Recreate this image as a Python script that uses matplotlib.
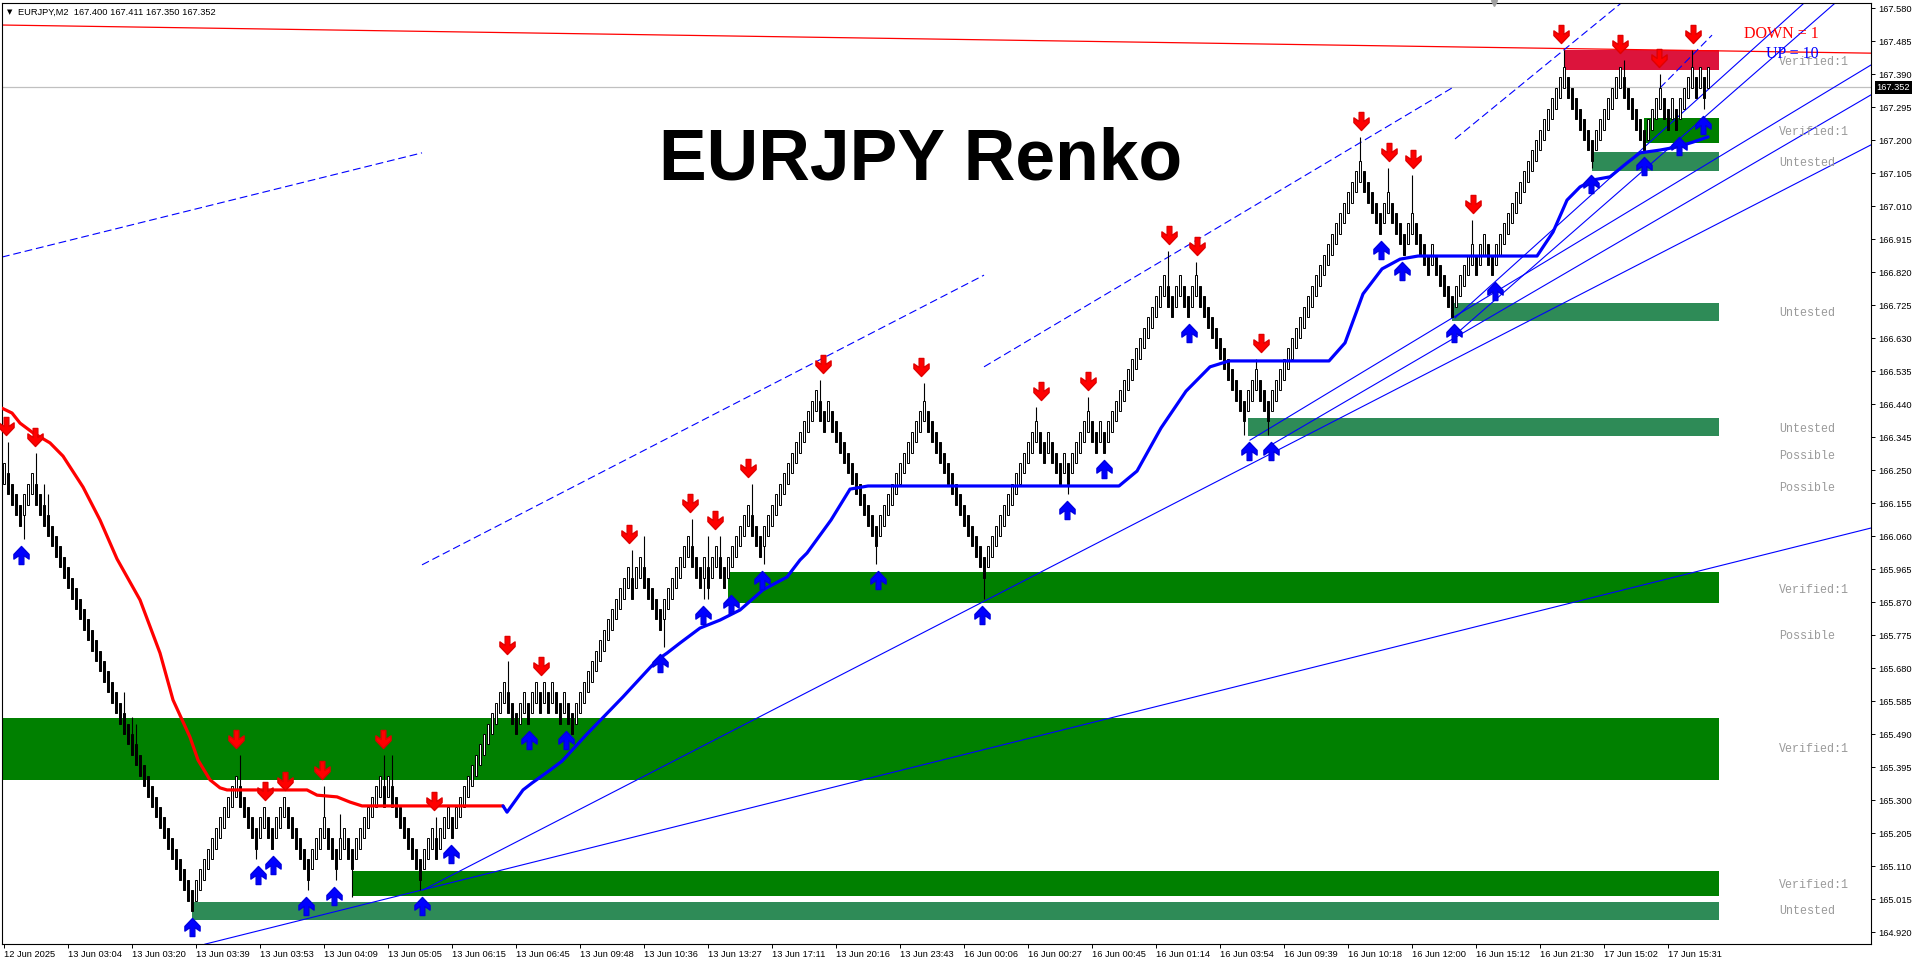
import matplotlib
matplotlib.use("Agg")
import matplotlib.pyplot as plt
from matplotlib.path import Path
from matplotlib.patches import Rectangle
from matplotlib.transforms import offset_copy, blended_transform_factory

# ---------------- Daten ----------------
BRICK = 0.03
start_close = 166.27

# Laenge jeder Renko-Bewegung in Bars (+ auf, - ab), erster Bar ist weiss
runs = [-4, 3, -40, 11, -5, 2, -2, 3, -6, 4, -3, 2, -2, 7, -1, 1, -8, 3, -1, 3, -1, 13,
        -3, 2, -1, 2, -1, 1, -1, 1, -2, 1, -2, 14,
        -1, 2, -5, 7, -3, 1, -1, 2, -2, 6, -3, 14, -2, 1, -12, 12, -15, 13,
        -2, 1, -3, 1, -1, 5, -2, 1, -1, 15, -2, 2, -2, 2, -12, 3, -3, 23,
        -5, 2, -4, 2, -4, 1, -5, 5, -1, 2, -2, 18,
        -7, 7, -6, 4, -2, 1, -1, 4, -1, 1, -1, 1]

# Dochte (Bar-Index: Preis)
wick_hi = {1: 166.33, 8: 166.30, 10: 166.21, 11: 166.18, 30: 165.61, 32: 165.54, 33: 165.52,
           59: 165.43, 80: 165.34, 84: 165.26, 95: 165.43, 97: 165.43, 108: 165.25,
           126: 165.70, 157: 166.02, 160: 166.06, 172: 166.11, 176: 166.06, 179: 166.06,
           187: 166.21, 204: 166.51, 230: 166.50, 258: 166.43, 271: 166.46, 291: 166.88,
           298: 166.85, 313: 166.57, 339: 167.21, 346: 167.12, 352: 167.10, 367: 166.97,
           390: 167.46, 405: 167.43, 414: 167.39, 422: 167.46}
wick_lo = {5: 166.05, 63: 165.13, 76: 165.04, 83: 165.07, 87: 165.02, 104: 165.04,
           165: 165.74, 175: 165.88, 176: 165.88, 190: 165.98, 218: 165.98,
           245: 165.88, 266: 166.18, 310: 166.35, 316: 166.35,
           397: 167.12, 425: 167.29}

# Fraktal-Pfeile (Position in Bars, aus dem Bild)
down_arrow_x = [0.6, 7.7, 58.1, 65.4, 70.3, 79.5, 94.8, 107.6, 125.9, 134.2, 156.2, 171.5,
                177.9, 186.1, 204.8, 229.2, 259.2, 271.1, 291.3, 298.3, 314.2, 339.2, 346.3,
                352.4, 367.3, 389.3, 404.0, 413.8, 422.4]
up_arrow_x = [4.3, 47.1, 63.6, 67.3, 75.5, 82.5, 104.5, 111.9, 131.4, 140.6, 164.1, 174.8,
              181.8, 189.5, 218.5, 244.5, 265.9, 275.1, 296.4, 311.4, 316.9, 344.4, 349.6,
              362.5, 372.9, 396.7, 410.1, 418.7, 424.8]

# Trendindikator (rot = fallend, blau = steigend)
ind_red_x = [-0.43, 2.08, 4.08, 7.33, 11.58, 14.83, 19.83, 24.08, 28.33, 34.08, 39.08, 42.33,
             46.58, 48.58, 51.58, 54.08, 55.83, 75.83, 78.33, 83.33, 86.58, 89.58, 124.83]
ind_red_y = [166.428, 166.414, 166.385, 166.357, 166.328, 166.290, 166.201, 166.106, 165.994,
             165.876, 165.723, 165.588, 165.481, 165.415, 165.358, 165.335, 165.329, 165.329,
             165.314, 165.309, 165.294, 165.283, 165.283]
ind_blue_x = [124.83, 125.83, 129.83, 132.08, 136.58, 139.58, 145.83, 154.83, 163.33, 165.83,
              169.08, 174.08, 179.08, 184.08, 189.83, 195.83, 199.08, 200.83, 206.83, 211.58,
              216.08, 278.83, 283.33, 289.33, 295.58, 301.58, 306.33, 331.33, 335.33, 339.83,
              344.58, 349.08, 353.58, 383.33, 387.33, 390.83, 394.08, 397.33, 401.58, 405.83,
              409.08, 414.08, 418.33, 422.33, 426.08]
ind_blue_y = [165.283, 165.265, 165.329, 165.349, 165.386, 165.412, 165.490, 165.597, 165.703,
              165.723, 165.752, 165.795, 165.818, 165.847, 165.905, 165.942, 165.991, 166.011,
              166.106, 166.195, 166.204, 166.204, 166.247, 166.371, 166.477, 166.547, 166.564,
              166.564, 166.616, 166.757, 166.829, 166.857, 166.866, 166.866, 166.935, 167.027,
              167.065, 167.085, 167.094, 167.134, 167.163, 167.171, 167.180, 167.194, 167.209]

# Trendlinien: (Bar1, Preis1, Bar2, Preis2), als Strahl nach rechts
solid_lines = [(50.3, 164.885, 466.83, 166.083),
               (104.83, 165.041, 466.83, 167.186),
               (311.58, 166.336, 466.83, 167.416),
               (316.83, 166.322, 466.83, 167.330),
               (362.83, 166.639, 457.33, 167.589),
               (362.83, 166.688, 449.58, 167.589)]
dashed_lines = [(-0.43, 166.863, 104.58, 167.163),
                (104.58, 165.977, 245.08, 166.811),
                (245.08, 166.547, 362.83, 167.355),
                (362.83, 167.203, 405.3, 167.603),
                (414.08, 167.350, 427.08, 167.502)]
red_line = (-0.43, 167.531, 466.83, 167.450)
bid = 167.352

# Zonen
zone_start = [390, 410, 397, 362, 311, 181, -2, 87, 47]
zone_lo = [167.401, 167.190, 167.111, 166.680, 166.349, 165.867, 165.358, 165.025, 164.955]
zone_hi = [167.458, 167.263, 167.165, 166.731, 166.400, 165.955, 165.537, 165.096, 165.007]
zone_color = ["#DC143C", "#008000", "#2E8B57", "#2E8B57", "#2E8B57", "#008000", "#008000",
              "#008000", "#2E8B57"]
ZONE_END = 428.8
label_price = [167.425, 167.223, 167.134, 166.702, 166.368, 166.290, 166.198, 165.905,
               165.772, 165.447, 165.056, 164.981]
label_text = ["Verified:1", "Verified:1", "Untested", "Untested", "Untested", "Possible",
              "Possible", "Verified:1", "Possible", "Verified:1", "Verified:1", "Untested"]

price_ticks = [167.580, 167.485, 167.390, 167.295, 167.200, 167.105, 167.010, 166.915,
               166.820, 166.725, 166.630, 166.535, 166.440, 166.345, 166.250, 166.155,
               166.060, 165.965, 165.870, 165.775, 165.680, 165.585, 165.490, 165.395,
               165.300, 165.205, 165.110, 165.015, 164.920]
time_labels = ["12 Jun 2025", "13 Jun 03:04", "13 Jun 03:20", "13 Jun 03:39", "13 Jun 03:53",
               "13 Jun 04:09", "13 Jun 05:05", "13 Jun 06:15", "13 Jun 06:45", "13 Jun 09:48",
               "13 Jun 10:36", "13 Jun 13:27", "13 Jun 17:11", "13 Jun 20:16", "13 Jun 23:43",
               "16 Jun 00:06", "16 Jun 00:27", "16 Jun 00:45", "16 Jun 01:14", "16 Jun 03:54",
               "16 Jun 09:39", "16 Jun 10:18", "16 Jun 12:00", "16 Jun 15:12", "16 Jun 21:30",
               "17 Jun 15:02", "17 Jun 15:31"]
time_tick_bars = list(range(0, 16 * len(time_labels), 16))

# ---------------- Renko-Bars aufbauen ----------------
closes = [start_close]
dirs = [1]
for r in runs:
    d = 1 if r > 0 else -1
    for k in range(abs(r)):
        step = 3 if k == 0 else 1
        closes.append(round(closes[-1] + d * step * BRICK, 3))
        dirs.append(d)
n_bars = len(closes)
body_lo = [c - 2 * BRICK if d > 0 else c for c, d in zip(closes, dirs)]
body_hi = [c if d > 0 else c + 2 * BRICK for c, d in zip(closes, dirs)]
highs = [max(wick_hi.get(i, body_hi[i]), body_hi[i]) for i in range(n_bars)]
lows = [min(wick_lo.get(i, body_lo[i]), body_lo[i]) for i in range(n_bars)]

# ---------------- Plot ----------------
W, H = 1917, 964
fig = plt.figure(figsize=(W / 100, H / 100), dpi=100)
fig.patch.set_facecolor("white")
ax = fig.add_axes([2 / W, 20 / H, 1869 / W, 941 / H])
XMIN, XMAX = -0.425, 466.825
ax.set_xlim(XMIN, XMAX)
ax.set_ylim(164.8855, 167.5944)

# Zonen
for s, lo, hi, c in zip(zone_start, zone_lo, zone_hi, zone_color):
    ax.add_patch(Rectangle((s, lo), ZONE_END - s, hi - lo, facecolor=c, edgecolor="none", zorder=1))

# Linien
ax.axhline(bid, color="#c0c0c0", lw=0.9, zorder=1.5)
ax.plot([red_line[0], red_line[2]], [red_line[1], red_line[3]], color="red", lw=0.9, zorder=2)
for x1, y1, x2, y2 in solid_lines:
    k = (y2 - y1) / (x2 - x1)
    ax.plot([x1, XMAX + 5], [y1, y1 + k * (XMAX + 5 - x1)], color="blue", lw=0.8, zorder=2)
for x1, y1, x2, y2 in dashed_lines:
    ax.plot([x1, x2], [y1, y2], color="blue", lw=0.8, dashes=(7, 3.5), zorder=2)

# Bars
xs = list(range(n_bars))
up = [i for i in xs if dirs[i] > 0]
dn = [i for i in xs if dirs[i] < 0]
wx = [i for i in xs if highs[i] > body_hi[i]]
ax.vlines(wx, [body_hi[i] for i in wx], [highs[i] for i in wx], color="black", lw=0.8, zorder=3)
wx = [i for i in xs if lows[i] < body_lo[i]]
ax.vlines(wx, [lows[i] for i in wx], [body_lo[i] for i in wx], color="black", lw=0.8, zorder=3)
ax.bar(up, [2 * BRICK] * len(up), bottom=[body_lo[i] for i in up], width=0.5,
       color="white", edgecolor="black", linewidth=0.7, zorder=3.5)
ax.bar(dn, [2 * BRICK] * len(dn), bottom=[body_lo[i] for i in dn], width=0.5,
       color="black", edgecolor="black", linewidth=0.7, zorder=3.5)

# Indikator
ax.plot(ind_red_x, ind_red_y, color="#ff0000", lw=2.3, zorder=4, solid_capstyle="round")
ax.plot(ind_blue_x, ind_blue_y, color="#0000ff", lw=2.3, zorder=4, solid_capstyle="round")

# Pfeile
verts = [(-0.13, 0.5), (0.13, 0.5), (0.13, 0.0), (0.42, 0.2), (0.42, -0.06), (0.0, -0.5),
         (-0.42, -0.06), (-0.42, 0.2), (-0.13, 0.0), (-0.13, 0.5)]
down_marker = Path(verts, closed=True)
up_marker = Path([(x, -y) for x, y in verts], closed=True)
tr_above = offset_copy(ax.transData, fig=fig, x=0, y=16, units="dots")
tr_below = offset_copy(ax.transData, fig=fig, x=0, y=-16, units="dots")
for xa in down_arrow_x:
    b = int(round(xa - 0.4))
    hi = max(highs[max(b - 1, 0):b + 2])
    ax.plot([xa], [hi], marker=down_marker, ms=13, color="#ff0000", mec="#e00000",
            linestyle="none", transform=tr_above, zorder=6, clip_on=False)
for xa in up_arrow_x:
    b = int(round(xa - 0.4))
    lo = min(lows[max(b - 1, 0):b + 2])
    ax.plot([xa], [lo], marker=up_marker, ms=13, color="#0000ff", mec="#0000e0",
            linestyle="none", transform=tr_below, zorder=6, clip_on=False)

# Zonen-Beschriftung
for p, t in zip(label_price, label_text):
    ax.text(443.8, p, t, fontsize=8.4, family="Liberation Mono", color="#9a9a9a",
            va="center", ha="left", zorder=7)

# Texte
fig.text(921 / W, 1 - 179 / H, "EURJPY Renko", fontsize=51.5, fontweight="bold",
         family="Liberation Sans", ha="center", va="baseline", zorder=10)
fig.text(1819 / W, 1 - 33.5 / H, "DOWN = 1", fontsize=11.5, family="Liberation Serif",
         color="red", ha="right", va="center")
fig.text(1819 / W, 1 - 54 / H, "UP = 10", fontsize=11.5, family="Liberation Serif",
         color="blue", ha="right", va="center")
fig.text(7 / W, 1 - 12 / H, "\u25bc", fontsize=5, family="DejaVu Sans", ha="left", va="center")
fig.text(18 / W, 1 - 12 / H, "EURJPY,M2  167.400 167.411 167.350 167.352", fontsize=6.7,
         family="Liberation Sans", ha="left", va="center")

# Achsen
for sp in ax.spines.values():
    sp.set_color("black")
    sp.set_linewidth(0.8)
ax.yaxis.tick_right()
ax.set_yticks(price_ticks)
ax.set_yticklabels(["%.3f" % v for v in price_ticks])
ax.tick_params(axis="y", which="both", left=False, right=True, labelleft=False, labelright=True,
               length=3, width=0.7, pad=2, labelsize=6.7)
ax.set_xticks(time_tick_bars)
ax.set_xticklabels(time_labels)
ax.tick_params(axis="x", length=3, width=0.7, pad=1.5, labelsize=6.7)
for lbl in ax.get_xticklabels() + ax.get_yticklabels():
    lbl.set_family("Liberation Sans")
for lbl in ax.get_xticklabels():
    lbl.set_ha("left")

# aktueller Kurs
ax.annotate("%.3f" % bid, xy=(1.0, bid), xycoords=blended_transform_factory(ax.transAxes, ax.transData),
            xytext=(4, 0), textcoords="offset points", fontsize=6.7, family="Liberation Sans",
            color="white", va="center", ha="left", annotation_clip=False,
            bbox=dict(boxstyle="square,pad=0.2", facecolor="black", edgecolor="none"))

# kleines Dreieck oben (Chart-Verschiebung)
ax.plot([372.6], [167.5944], marker="v", ms=5, color="#a0a0a0", clip_on=False, zorder=8)

fig.savefig("out.png", dpi=100, facecolor="white")
